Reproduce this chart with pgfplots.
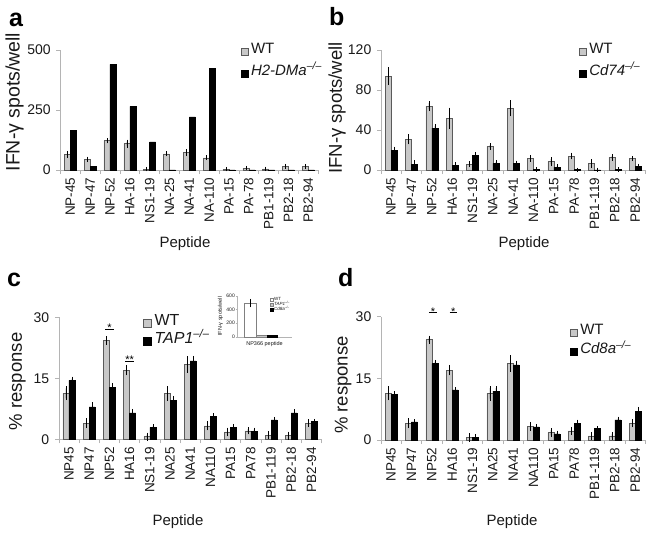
\documentclass[border=0pt]{standalone}
\usepackage{fontspec}
\setmainfont{Liberation Sans}
\usepackage{pgfplots}
\pgfplotsset{compat=1.18}
\definecolor{wtfill}{RGB}{200,200,200}
\definecolor{wtdraw}{RGB}{90,90,90}
\definecolor{axcol}{RGB}{180,180,180}
\definecolor{txt}{RGB}{25,25,25}
\newcommand{\fs}[1]{\fontsize{#1}{#1}\selectfont}
\newcommand{\ko}{\textsuperscript{\textit{–/–}}}
\pgfplotsset{
  panel/.style={
    anchor=south west, scale only axis, ybar, bar width=6pt,
    xmin=-0.5, xmax=12.5, xtick={0,...,12},
    minor xtick={-0.5,0.5,...,12.5},
    axis x line*=bottom, axis y line*=left,
    axis line style={axcol, line width=0.7pt},
    tick align=outside, major tick length=4pt, minor tick length=4pt,
    major x tick style={draw=none},
    minor x tick style={axcol, line width=0.7pt},
    major y tick style={axcol, line width=0.7pt},
    xticklabel style={rotate=90, anchor=east, font=\fs{13.5}, inner sep=0pt, text=txt},
    yticklabel style={font=\fs{14}, inner sep=0pt, text=txt},
    xticklabel shift=3.5pt, yticklabel shift=5.5pt,
    /pgf/number format/assume math mode=true,
    ymin=0, clip=false, legend cell align=left,
    legend style={draw=none, fill=none, inner sep=0pt, font=\fs{15},
      nodes={inner sep=0pt, text height=11pt, text depth=3pt, text=txt},
      row sep=8pt, column sep=3pt},
    legend image code/.code={\draw[##1, line width=0.5pt] (0pt,-6pt) rectangle (6.6pt,1pt);},
  },
  wt/.style={fill=wtfill, draw=wtdraw, line width=0.5pt, bar shift=-3pt,
    error bars/y dir=both, error bars/y explicit,
    error bars/error bar style={black, line width=0.5pt},
    error bars/error mark options={black, line width=0.5pt, mark size=2pt}},
  kob/.style={fill=black, draw=black, line width=0.5pt, bar shift=3pt,
    error bars/y dir=both, error bars/y explicit,
    error bars/error bar style={black, line width=0.5pt},
    error bars/error mark options={black, line width=0.5pt, mark size=2pt}},
}
\begin{document}
\begin{tikzpicture}
\useasboundingbox (0,0) rectangle (651pt,-533pt);

% ---------------- panel a
\begin{axis}[panel, at={(60.4pt,-170pt)}, width=257.8pt, height=120pt,
  ymax=500, ytick={0,250,500},
  xticklabels={NP-45,NP-47,NP-52,HA-16,NS1-19,NA-25,NA-41,NA-110,PA-15,PA-78,PB1-119,PB2-18,PB2-94},
  legend style={at={(0.6994,1.0667)}, anchor=north west}]
\addplot[wt] coordinates {(0,65) +- (0,6) (1,44) +- (0,3) (2,122) +- (0,3) (3,110) +- (0,8)
  (4,4) +- (0,1) (5,67) +- (0,2) (6,72) +- (0,6) (7,51) +- (0,2) (8,4) +- (0,1)
  (9,8) +- (0,1) (10,5) +- (0,1) (11,15) +- (0,2) (12,14) +- (0,2)};
\addlegendentry{WT}
\addplot[fill=black, draw=black, line width=0.5pt, bar shift=3pt] coordinates {(0,164) (1,15) (2,440) (3,265)
  (4,117) (5,1) (6,221) (7,422) (8,1) (9,0.5) (10,0.5) (11,0.5) (12,0.5)};
\addlegendentry{\textit{H2-DMa}\ko}
\end{axis}

% ---------------- panel b
\begin{axis}[panel, at={(381pt,-170pt)}, width=264.3pt, height=120pt,
  ymax=120, ytick={0,40,80,120},
  xticklabels={NP-45,NP-47,NP-52,HA-16,NS1-19,NA-25,NA-41,NA-110,PA-15,PA-78,PB1-119,PB2-18,PB2-94},
  legend style={at={(0.749,1.0667)}, anchor=north west}]
\addplot[wt] coordinates {(0,94) +- (0,6.7) (1,30.7) +- (0,3) (2,64) +- (0,3) (3,51.7) +- (0,8.7)
  (4,6) +- (0,1) (5,23.7) +- (0,1.3) (6,61.7) +- (0,6) (7,11.7) +- (0,1.3) (8,8.3) +- (0,2.7)
  (9,14) +- (0,1.3) (10,6.7) +- (0,2.3) (11,12.7) +- (0,1.3) (12,11.3) +- (0,0.5)};
\addlegendentry{WT}
\addplot[kob] coordinates {(0,20) +- (0,1.5) (1,5.7) +- (0,2) (2,42) +- (0,2) (3,4.7) +- (0,1)
  (4,14.7) +- (0,1) (5,6.7) +- (0,1.3) (6,6.3) +- (0,1) (7,0.5) +- (0,0.3) (8,2.7) +- (0,1)
  (9,0.3) +- (0,0.2) (10,0.2) +- (0,0.1) (11,0.5) +- (0,0.3) (12,3.3) +- (0,1)};
\addlegendentry{\textit{Cd74}\ko}
\end{axis}

% ---------------- panel c
\begin{axis}[panel, at={(58.9pt,-439.3pt)}, width=262.6pt, height=122pt,
  ymax=30, ytick={0,15,30},
  xticklabels={NP45,NP47,NP52,HA16,NS1-19,NA25,NA41,NA110,PA15,PA78,PB1-119,PB2-18,PB2-94},
  legend style={at={(0.320,1.035)}, anchor=north west, font=\fs{16},
    nodes={inner sep=0pt, text height=12pt, text depth=3.5pt, text=txt}, row sep=3.2pt},
  legend image code/.code={\draw[#1, line width=0.5pt] (0pt,-6pt) rectangle (8pt,2pt);}]
\addplot[wt] coordinates {(0,11.3) +- (0,1.2) (1,4.0) +- (0,0.7) (2,24.3) +- (0,0.5) (3,17.0) +- (0,0.8)
  (4,0.65) +- (0,0.5) (5,11.3) +- (0,1.3) (6,18.4) +- (0,1.5) (7,3.3) +- (0,0.6) (8,1.8) +- (0,0.6)
  (9,2.1) +- (0,0.4) (10,1.0) +- (0,0.5) (11,0.9) +- (0,0.5) (12,4.0) +- (0,0.4)};
\addlegendentry{WT}
\addplot[kob] coordinates {(0,14.5) +- (0,0.4) (1,8.0) +- (0,0.6) (2,12.8) +- (0,0.6) (3,6.5) +- (0,0.5)
  (4,2.95) +- (0,0.2) (5,9.6) +- (0,0.6) (6,19.3) +- (0,0.7) (7,5.65) +- (0,0.3) (8,3.0) +- (0,0.3)
  (9,2.0) +- (0,0.4) (10,4.75) +- (0,0.3) (11,6.5) +- (0,0.4) (12,4.35) +- (0,0.2)};
\addlegendentry{\textit{TAP1}\ko}
\draw[black, line width=0.6pt] (axis cs:1.79,27.1) -- (axis cs:2.21,27.1);
\node[font=\fs{11}, anchor=base, inner sep=0pt, yshift=-2.5pt] at (axis cs:2,27.1) {*};
\draw[black, line width=0.6pt] (axis cs:2.78,19.3) -- (axis cs:3.22,19.3);
\node[font=\fs{11}, anchor=base, inner sep=0pt, yshift=-2.5pt] at (axis cs:3,19.3) {**};
\end{axis}

% ---------------- panel d
\begin{axis}[panel, at={(381pt,-440pt)}, width=264.3pt, height=123.3pt,
  ymax=30, ytick={0,15,30},
  xticklabels={NP45,NP47,NP52,HA16,NS1-19,NA25,NA41,NA110,PA15,PA78,PB1-119,PB2-18,PB2-94},
  legend style={at={(0.715,0.949)}, anchor=north west, row sep=5.3pt}]
\addplot[wt] coordinates {(0,11.35) +- (0,1.2) (1,4.05) +- (0,0.7) (2,24.4) +- (0,0.5) (3,17.0) +- (0,0.8)
  (4,0.6) +- (0,0.5) (5,11.35) +- (0,1.3) (6,18.6) +- (0,1.5) (7,3.3) +- (0,0.6) (8,1.8) +- (0,0.6)
  (9,2.2) +- (0,0.5) (10,1.0) +- (0,0.5) (11,1.0) +- (0,0.5) (12,4.05) +- (0,0.5)};
\addlegendentry{WT}
\addplot[kob] coordinates {(0,11.1) +- (0,0.3) (1,4.4) +- (0,0.2) (2,18.6) +- (0,0.4) (3,12.2) +- (0,0.2)
  (4,0.65) +- (0,0.3) (5,11.9) +- (0,0.7) (6,18.3) +- (0,0.5) (7,3.2) +- (0,0.2) (8,1.5) +- (0,0.3)
  (9,4.05) +- (0,0.4) (10,2.75) +- (0,0.15) (11,4.9) +- (0,0.3) (12,7.05) +- (0,0.5)};
\addlegendentry{\textit{Cd8a}\ko}
\draw[black, line width=0.6pt] (axis cs:1.85,31) -- (axis cs:2.27,31);
\node[font=\fs{11}, anchor=base, inner sep=0pt, yshift=-2.5pt] at (axis cs:2.06,31) {*};
\draw[black, line width=0.6pt] (axis cs:2.88,31) -- (axis cs:3.25,31);
\node[font=\fs{11}, anchor=base, inner sep=0pt, yshift=-2.5pt] at (axis cs:3.06,31) {*};
\end{axis}

% ---------------- inset in c
\begin{axis}[at={(237pt,-336.7pt)}, anchor=south west, scale only axis, width=55pt, height=41pt,
  xmin=0, xmax=55, ymin=0, ymax=600, ytick={0,200,400,600}, xtick=\empty,
  axis x line*=bottom, axis y line*=left, axis line style={axcol, line width=0.4pt},
  tick align=outside, major tick length=1.5pt, major y tick style={axcol, line width=0.4pt},
  yticklabel style={font=\fs{5}, inner sep=0.5pt, text=txt},
  /pgf/number format/assume math mode=true,
  ylabel={IFN-γ spots/well}, ylabel style={font=\fs{5.5}, text=txt, at={(-0.19,0.5)}, anchor=south},
  xlabel={NP366 peptide}, xlabel style={font=\fs{5.5}, text=txt, at={(0.5,-0.03)}, anchor=north},
  ybar, bar width=11pt, clip=false, legend cell align=left,
  legend style={at={(0.6,0.97)}, anchor=north west, draw=none, fill=none, inner sep=0pt,
    font=\fs{4.5}, nodes={inner sep=0pt, text height=3.5pt, text depth=1pt, text=txt},
    row sep=0.6pt, column sep=1pt},
  legend image code/.code={\draw[#1, line width=0.3pt] (0pt,-1.6pt) rectangle (2.6pt,1pt);}]
\addplot[fill=white, draw=gray, line width=0.4pt, bar shift=0pt, bar width=12pt,
  error bars/y dir=both, error bars/y explicit,
  error bars/error bar style={black, line width=0.4pt},
  error bars/error mark options={black, line width=0.4pt, mark size=1.5pt}]
  coordinates {(13,490) +- (0,40)};
\addlegendentry{WT}
\addplot[fill=wtfill, draw=gray, line width=0.4pt, bar shift=0pt, bar width=11pt] coordinates {(24.5,15)};
\addlegendentry{\textit{TAP1}\ko}
\addplot[fill=black, draw=black, line width=0.4pt, bar shift=0pt, bar width=10pt] coordinates {(35,20)};
\addlegendentry{\textit{Cd8a}\ko}
\end{axis}

% ---------------- labels
\node[font=\bfseries\fs{25}, anchor=base west, inner sep=0pt, text=black] at (9pt,-26pt) {a};
\node[font=\bfseries\fs{25}, anchor=base west, inner sep=0pt, text=black] at (329pt,-25pt) {b};
\node[font=\bfseries\fs{25}, anchor=base west, inner sep=0pt, text=black] at (7pt,-286pt) {c};
\node[font=\bfseries\fs{25}, anchor=base west, inner sep=0pt, text=black] at (338pt,-286pt) {d};

\node[font=\fs{19.5}, rotate=90, inner sep=0pt, text=txt] at (14.5pt,-102pt) {IFN-γ spots/well};
\node[font=\fs{18.5}, rotate=90, inner sep=0pt, text=txt] at (337pt,-108pt) {IFN-γ spots/well};
\node[font=\fs{18.5}, rotate=90, inner sep=0pt, text=txt] at (17.5pt,-381.5pt) {\% response};
\node[font=\fs{18.5}, rotate=90, inner sep=0pt, text=txt] at (343pt,-385pt) {\% response};

\node[font=\fs{15}, anchor=base, inner sep=0pt, text=txt] at (185pt,-247pt) {Peptide};
\node[font=\fs{15}, anchor=base, inner sep=0pt, text=txt] at (524pt,-247pt) {Peptide};
\node[font=\fs{15}, anchor=base, inner sep=0pt, text=txt] at (178pt,-525pt) {Peptide};
\node[font=\fs{15}, anchor=base, inner sep=0pt, text=txt] at (512pt,-525pt) {Peptide};
\end{tikzpicture}
\end{document}
